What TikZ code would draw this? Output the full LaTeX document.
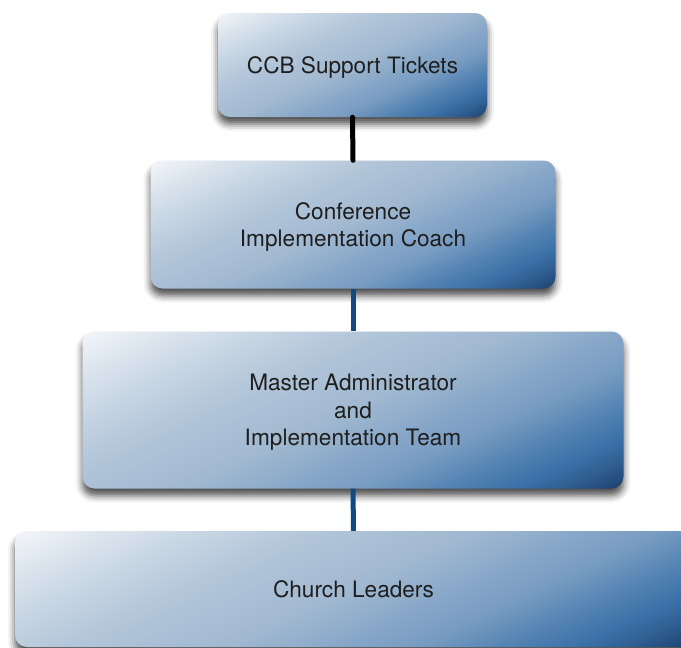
\documentclass[tikz,border=0pt]{standalone}
\usepackage{fontspec}
\setmainfont{TeX Gyre Heros}
\usetikzlibrary{shadows.blur}

% blue gradient stops, light at the top-left corner, dark at the bottom-right
\definecolor{g0}{HTML}{F3F6FA}
\definecolor{g1}{HTML}{DCE5EE}
\definecolor{g2}{HTML}{C8D6E4}
\definecolor{g3}{HTML}{B3C6DA}
\definecolor{g4}{HTML}{A0B8D0}
\definecolor{g5}{HTML}{86A6C8}
\definecolor{g6}{HTML}{789CC1}
\definecolor{g7}{HTML}{5282B2}
\definecolor{g8}{HTML}{3D72A8}
\definecolor{g9}{HTML}{2F5E92}
\definecolor{g10}{HTML}{1D3F6C}
\definecolor{linkblue}{RGB}{16,74,132}
\definecolor{textgray}{HTML}{1E1E1E}

% left-to-right shading; the rectangle it fills spans 25bp..75bp
\pgfdeclarehorizontalshading{boxgrad}{100bp}{%
  color(0bp)=(g0); color(25bp)=(g0); color(30bp)=(g1); color(35bp)=(g2);
  color(41bp)=(g3); color(50bp)=(g4); color(56bp)=(g5); color(60bp)=(g6);
  color(65bp)=(g7); color(68.5bp)=(g8); color(71.5bp)=(g9); color(75bp)=(g10);
  color(100bp)=(g10)}

% direction of the gradient, measured clockwise from the x axis
\def\gradangle{65}

\tikzset{
  boxshadow/.style={blur shadow={shadow xshift=0pt, shadow yshift=-7pt,
      shadow blur radius=7pt, shadow opacity=70}},
  boxtext/.style={rectangle, align=center, text=textgray, inner sep=0pt,
    text depth=0pt, font=\fontsize{22.6}{27.5}\selectfont},
  toplink/.style={line width=5pt, black, line cap=round},
  link/.style={line width=5pt, linkblue}
}

% #1 name, #2 centre x, #3 centre y, #4 width, #5 height, #6 label
\newcommand\orgbox[6]{%
  \pgfmathsetmacro\bxhw{#4/2}%
  \pgfmathsetmacro\bxhh{#5/2}%
  \pgfmathsetmacro\bxp{(#4*cos(\gradangle)+#5*sin(\gradangle))/2}%
  \pgfmathsetmacro\bxq{(#4*sin(\gradangle)+#5*cos(\gradangle))/2}%
  \path[boxshadow, rounded corners=12pt]
    (#2-\bxhw,#3-\bxhh) rectangle (#2+\bxhw,#3+\bxhh);
  \begin{scope}
    \clip[rounded corners=12pt] (#2-\bxhw,#3-\bxhh) rectangle (#2+\bxhw,#3+\bxhh);
    \shade[shading=boxgrad, transform canvas={shift={(#2,#3)}, rotate=-\gradangle}]
      (-\bxp,-\bxq) rectangle (\bxp,\bxq);
  \end{scope}
  \node[boxtext, minimum width=#4pt, minimum height=#5pt] (#1) at (#2,#3) {#6};
}

\begin{document}
\begin{tikzpicture}[x=1pt, y=-1pt]
  \useasboundingbox (0,0) rectangle (681,648);
  \clip (0,0) rectangle (681,648);

  \orgbox{tickets}{352.5}{65}{269}{104}{CCB Support Tickets}
  \orgbox{coach}{353}{224.5}{405}{128}{Conference\\Implementation Coach}
  \orgbox{admin}{353}{410}{541}{157}{Master Administrator\\and\\Implementation Team}
  \orgbox{leaders}{353.5}{589}{677}{116}{Church Leaders}

  \draw[toplink] (tickets.south) -- (coach.north);
  \draw[link] (coach.south) -- (admin.north);
  \draw[link] (admin.south) -- (leaders.north);
\end{tikzpicture}
\end{document}
